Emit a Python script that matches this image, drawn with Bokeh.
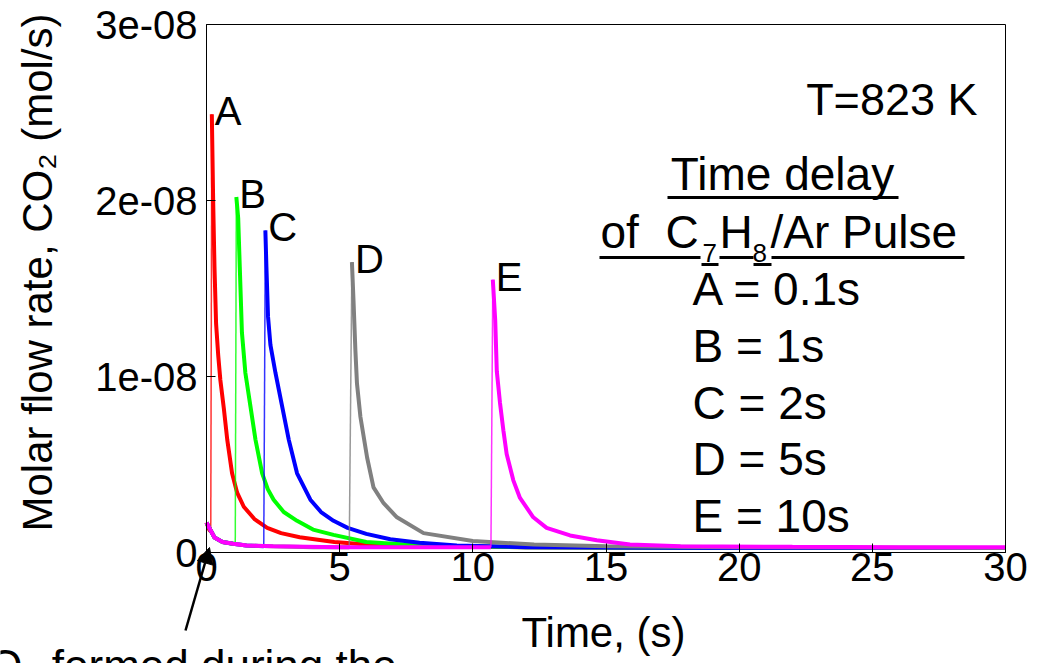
import numpy as np
from bokeh.plotting import figure
from bokeh.models import (Label, Arrow, NormalHead, FixedTicker,
                          CustomJSTickFormatter, ColumnDataSource, Range1d)
from bokeh.core.properties import value
from bokeh.embed import file_html
from bokeh.resources import INLINE

# ---------------- data (time in s, CO2 molar flow rate in 1e-08 mol/s) -------------
SCALE = 1e-08
series_names = ["A", "B", "C", "D", "E"]
delay_s = [0.1, 1, 2, 5, 10]
colors = ["#FF0000", "#00FF00", "#0000FF", "#808080", "#FF00FF"]

t_A = [0.0, 0.1, 0.16, 0.20, 0.25, 0.30, 0.36, 0.44, 0.52, 0.65, 0.78, 0.96, 1.15, 1.4,
       1.8, 2.28, 2.8, 3.5, 4.8, 6.0, 8.0, 12.0, 20.0, 30.0]
v_A = [0.17, 0.13, 0.12, 2.49, 2.00, 1.62, 1.30, 1.12, 0.98, 0.82, 0.64, 0.45, 0.34, 0.26,
       0.19, 0.14, 0.11, 0.087, 0.06, 0.045, 0.035, 0.03, 0.025, 0.025]

t_B = [0.0, 0.3, 0.6, 1.0, 1.08, 1.12, 1.19, 1.25, 1.33, 1.46, 1.65, 1.84, 2.09,
       2.3, 2.52, 2.9, 3.4, 4.0, 4.77, 6.0, 8.0, 12.0, 20.0, 30.0]
v_B = [0.17, 0.085, 0.06, 0.05, 0.05, 2.02, 1.90, 1.62, 1.25, 1.02, 0.83, 0.64, 0.45,
       0.36, 0.30, 0.23, 0.18, 0.13, 0.10, 0.06, 0.04, 0.03, 0.025, 0.025]

t_C = [0.0, 0.3, 0.6, 1.0, 1.5, 2.15, 2.21, 2.25, 2.31, 2.40, 2.59, 2.84, 3.09, 3.4,
       3.9, 4.3, 4.77, 5.3, 6.0, 6.9, 8.0, 9.4, 12.0, 20.0, 30.0]
v_C = [0.17, 0.085, 0.06, 0.05, 0.04, 0.035, 1.83, 1.62, 1.34, 1.18, 1.02, 0.83, 0.64,
       0.45, 0.30, 0.23, 0.18, 0.14, 0.106, 0.075, 0.055, 0.04, 0.03, 0.025, 0.025]

t_D = [0.0, 0.3, 0.6, 1.0, 1.5, 2.5, 4.0, 5.36, 5.46, 5.52, 5.59, 5.65, 5.78, 6.03,
       6.27, 6.65, 7.15, 8.15, 10.0, 12.3, 15.0, 20.0, 30.0]
v_D = [0.17, 0.085, 0.06, 0.05, 0.04, 0.035, 0.03, 0.03, 1.65, 1.43, 1.15, 0.96, 0.77,
       0.54, 0.37, 0.28, 0.20, 0.11, 0.065, 0.045, 0.035, 0.03, 0.025]

t_E = [0.0, 0.3, 0.6, 1.0, 1.5, 2.5, 5.0, 8.0, 10.68, 10.75, 10.84, 10.9, 11.02,
       11.15, 11.27, 11.52, 11.77, 12.27, 12.77, 13.65, 14.65, 15.9, 17.8, 22.0, 26.0, 30.0]
v_E = [0.17, 0.085, 0.06, 0.05, 0.04, 0.035, 0.03, 0.03, 0.03, 1.55, 1.32, 1.03, 0.85,
       0.69, 0.56, 0.41, 0.31, 0.20, 0.14, 0.097, 0.07, 0.045, 0.035, 0.032, 0.03, 0.03]

x_ticks = [0, 5, 10, 15, 20, 25, 30]
y_ticks = [0, 1e-08, 2e-08, 3e-08]

times = [t_A, t_B, t_C, t_D, t_E]
values = [v_A, v_B, v_C, v_D, v_E]

# ---------------- layout helpers -------------
FONT = "Liberation Sans"
W, H = 1037, 663
BL, BR, BT, BB = 206, 1005, 24, 552          # plot box edges in canvas pixels
X0, X1, Y0, Y1 = 0.0, 30.0, 0.0, 3e-08


def px(ix):
    """canvas pixel x -> data x"""
    return X0 + (ix - BL) / (BR - BL) * (X1 - X0)


def py(iy):
    """canvas pixel y -> data y"""
    return Y0 + (BB - iy) / (BB - BT) * (Y1 - Y0)


p = figure(width=W, height=H, x_range=Range1d(px(0), px(W)), y_range=Range1d(py(H), py(0)),
           output_backend="svg", toolbar_location=None, title=None,
           min_border=0, min_border_left=0, min_border_right=0,
           min_border_top=0, min_border_bottom=0)
p.background_fill_color = "white"
p.border_fill_color = "white"
p.outline_line_color = None
p.xgrid.visible = False
p.ygrid.visible = False

p.xaxis.ticker = FixedTicker(ticks=x_ticks)
p.yaxis.ticker = FixedTicker(ticks=y_ticks)
p.yaxis.formatter = CustomJSTickFormatter(code=r"""
if (Math.abs(tick) < 1e-20) { return "0"; }
const s = tick.toExponential(0);
return s.replace(/e-(\d)$/, "e-0$1");
""")
p.xaxis.fixed_location = Y0
p.yaxis.fixed_location = X0
p.xaxis.bounds = (X0, X1)
p.yaxis.bounds = (Y0, Y1)
for ax in (p.xaxis[0], p.yaxis[0]):
    ax.major_tick_in = 9
    ax.major_tick_out = 0
    ax.minor_tick_line_color = None
    ax.axis_line_color = "black"
    ax.major_tick_line_color = "black"
    ax.major_label_text_font = FONT
    ax.major_label_text_font_size = "40px"
    ax.major_label_text_color = "black"
    ax.axis_label = None
p.xaxis.major_label_standoff = 0
p.yaxis.major_label_standoff = 9

# plot box
p.quad(left=[X0], right=[X1], bottom=[Y0], top=[Y1], fill_color=None,
       line_color="black", line_width=1)

# ---------------- curves -------------
peak_x, peak_y = [], []
for t, v, col in zip(times, values, colors):
    tv = np.array(t, dtype=float)
    vv = np.array(v, dtype=float) * SCALE
    k = int(np.argmax(vv))
    p.line(tv[:k], vv[:k], line_color=col, line_width=4)
    p.line(tv[k - 1:k + 1], vv[k - 1:k + 1], line_color=col, line_width=1.5, line_alpha=0.8)
    p.line(tv[k:], vv[k:], line_color=col, line_width=4)
    peak_x.append(tv[k])
    peak_y.append(vv[k])

src = ColumnDataSource(dict(x=peak_x, y=peak_y, text=series_names))
p.text(x="x", y="y", text="text", source=src, text_font=value(FONT),
       text_font_size=value("40px"), text_color="black", text_align="left",
       text_baseline="middle", x_offset=3, y_offset=-3)


# ---------------- annotation block -------------
def lab(text, ix, iy, size=46, align="left", angle=0.0):
    """iy is the text baseline in canvas pixels"""
    yc = iy - 0.35 * size
    p.add_layout(Label(x=px(ix), y=py(yc), text=text, text_font=FONT,
                       text_font_size=f"{size}px", text_color="black", text_align=align,
                       text_baseline="middle", angle=angle))


lab("T=823 K", 977, 115, size=45, align="right")
lab("Time delay", 782, 190, align="center")
lab("of", 600, 248)
lab("C", 665, 248)
lab("7", 702, 262, size=26)
lab("H", 719, 248)
lab("8", 752, 262, size=26)
lab("/Ar Pulse", 770, 248)
row_baselines = [305, 362, 419, 475, 532]
for name, d, yb in zip(series_names, delay_s, row_baselines):
    lab(f"{name} = {d:g}s", 692, yb)

ul = dict(x0=[px(667), px(599), px(701), px(719), px(753), px(771)],
          x1=[px(898), px(700), px(718), px(753), px(771), px(964)],
          y0=[py(197), py(257), py(264), py(257), py(264), py(257)],
          y1=[py(197), py(257), py(264), py(257), py(264), py(257)])
p.segment(x0="x0", y0="y0", x1="x1", y1="y1", source=ColumnDataSource(ul),
          line_color="black", line_width=3)

# axis titles and note
p.add_layout(Label(x=px(37), y=py(272), text="Molar flow rate, CO\u2082 (mol/s)",
                   text_font=FONT, text_font_size="42px", text_color="black",
                   text_align="center", text_baseline="middle", angle=np.pi / 2))
lab("Time, (s)", 603, 647, size=42, align="center")
lab("CO\u2082 formed during the", -44, 680, size=44)

p.add_layout(Arrow(end=NormalHead(size=16, fill_color="black", line_color="black"),
                   x_start=px(185), y_start=py(630), x_end=px(209), y_end=py(547),
                   line_color="black", line_width=2.5))

open("out.html", "w").write(file_html(p, INLINE))
